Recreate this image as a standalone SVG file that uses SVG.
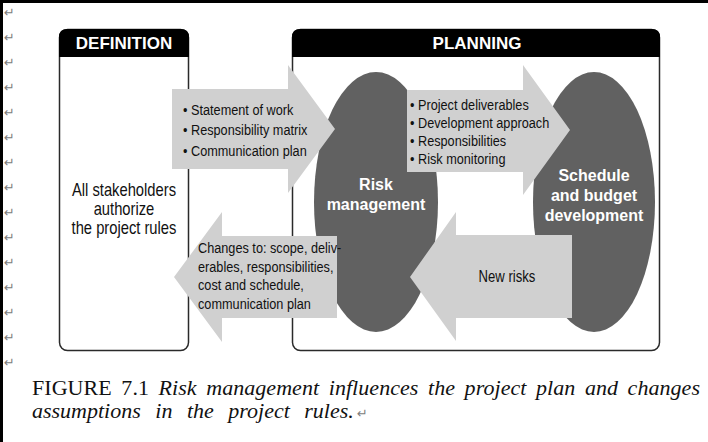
<svg xmlns="http://www.w3.org/2000/svg" width="708" height="442" viewBox="0 0 708 442">
<defs>
<style>
.box{fill:#fff;stroke:#2a2a2a;stroke-width:1.5}
.hdr{fill:#000}
.hdrt{font-family:"Liberation Sans",Arial,sans-serif;font-weight:bold;font-size:17px;fill:#fff;text-anchor:middle}
.ell{fill:#616161}
.ellt{font-family:"Liberation Sans",Arial,sans-serif;font-weight:bold;font-size:16px;fill:#fff;text-anchor:middle}
.arr{fill:#d0d0d0}
.nt{font-family:"Liberation Sans",Arial,sans-serif;font-size:15.5px;fill:#111}
.nr{font-family:"Liberation Sans",Arial,sans-serif;font-size:16px;fill:#111;text-anchor:middle}
.big{font-family:"Liberation Sans",Arial,sans-serif;font-size:18px;fill:#111;text-anchor:middle}
.pm{font-family:"DejaVu Sans",sans-serif;font-size:13px;fill:#808080}
.cap{font-family:"Liberation Serif","Times New Roman",serif;font-size:22px;fill:#111}
.it{font-style:italic}
</style>
</defs>
<rect width="708" height="442" fill="#fff"/>
<g id="frame">
<rect x="0" y="0" width="708" height="3" fill="#000"/>
<rect x="0" y="0" width="3" height="442" fill="#000"/>
</g>
<g id="marks" class="pm">
<text x="4" y="17">↵</text><text x="4" y="42">↵</text><text x="4" y="67">↵</text><text x="4" y="92">↵</text><text x="4" y="117">↵</text><text x="4" y="142">↵</text><text x="4" y="167">↵</text><text x="4" y="192">↵</text><text x="4" y="217">↵</text><text x="4" y="242">↵</text><text x="4" y="267">↵</text><text x="4" y="292">↵</text><text x="4" y="317">↵</text><text x="4" y="342">↵</text><text x="4" y="367">↵</text>
</g>
<g id="definition">
<rect class="box" x="59.5" y="29.5" width="129" height="321" rx="8"/>
<path class="hdr" d="M59,57 V37 Q59,29 67,29 H181 Q189,29 189,37 V57 Z"/>
<text class="hdrt" x="124" y="49">DEFINITION</text>
<g transform="scale(0.82,1)">
<text class="big" x="151.2" y="196">All stakeholders</text>
<text class="big" x="151.2" y="215">authorize</text>
<text class="big" x="151.2" y="234">the project rules</text>
</g>
</g>
<g id="planning">
<rect class="box" x="292.5" y="29.5" width="367" height="321" rx="8"/>
<path class="hdr" d="M292,57 V37 Q292,29 300,29 H652 Q660,29 660,37 V57 Z"/>
<text class="hdrt" x="477" y="49">PLANNING</text>
</g>
<g id="risk">
<ellipse class="ell" cx="376" cy="202" rx="62" ry="130"/>
<text class="ellt" x="376" y="190">Risk</text>
<text class="ellt" x="376" y="210">management</text>
</g>
<g id="schedule">
<ellipse class="ell" cx="594" cy="202" rx="61" ry="130"/>
<text class="ellt" x="594" y="181">Schedule</text>
<text class="ellt" x="594" y="201">and budget</text>
<text class="ellt" x="594" y="221">development</text>
</g>
<g id="connectors">
<path class="arr" d="M172,89 H288 V65 L335,129 L288,193 V169 H172 Z"/>
<path class="arr" d="M407,90 H523 V65 L570,130 L523,195 V172 H407 Z"/>
<path class="arr" d="M337,236 H222 V212 L174,277 L222,342 V318 H337 Z"/>
<path class="arr" d="M572,235 H456 V212 L410,277 L456,341 V318 H572 Z"/>
<g transform="scale(0.82,1)">
<text class="nt" x="223.2" y="115">• Statement of work</text>
<text class="nt" x="223.2" y="135.5">• Responsibility matrix</text>
<text class="nt" x="223.2" y="156">• Communication plan</text>
<text class="nt" x="500" y="110">• Project deliverables</text>
<text class="nt" x="500" y="128">• Development approach</text>
<text class="nt" x="500" y="146">• Responsibilities</text>
<text class="nt" x="500" y="164">• Risk monitoring</text>
<text class="nt" x="241.5" y="253">Changes to: scope, deliv-</text>
<text class="nt" x="241.5" y="272">erables, responsibilities,</text>
<text class="nt" x="241.5" y="290">cost and schedule,</text>
<text class="nt" x="241.5" y="309">communication plan</text>
<text class="nr" x="618.3" y="282">New risks</text>
</g>
</g>
<g id="caption">
<text class="cap" x="32" y="395" word-spacing="4" textLength="668" lengthAdjust="spacing">FIGURE 7.1 <tspan class="it">Risk management influences the project plan and changes</tspan></text>
<text class="cap it" x="32" y="418" word-spacing="9">assumptions in the project rules.</text>
<text class="pm" x="357" y="418">↵</text>
</g>
</svg>
